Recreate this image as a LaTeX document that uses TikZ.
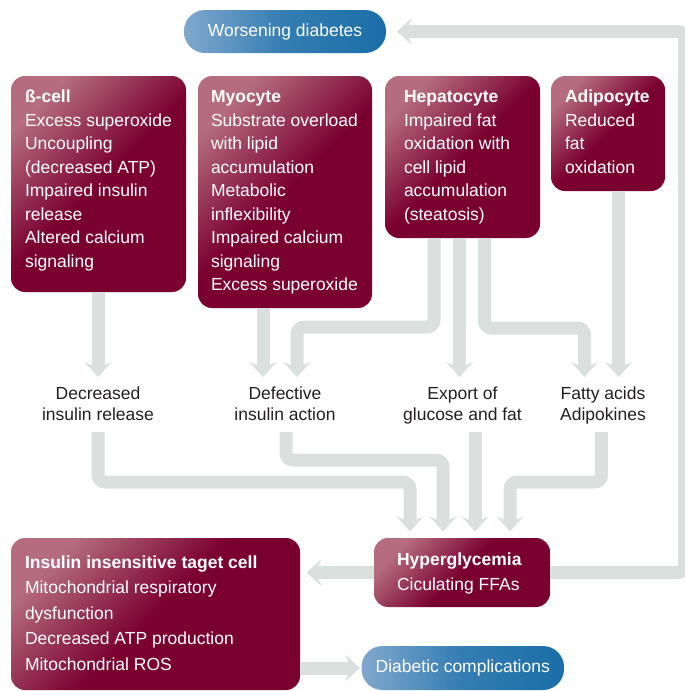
\documentclass[tikz,border=0pt]{standalone}
\usepackage{fontspec}
\setmainfont{Liberation Sans}
\usetikzlibrary{arrows.meta,calc}
\definecolor{mdark}{RGB}{122,0,48}
\definecolor{mlight}{RGB}{180,108,126}
\definecolor{bdark}{RGB}{26,110,168}
\definecolor{blight}{RGB}{128,168,206}
\definecolor{conncol}{RGB}{218,224,221}
\definecolor{labcol}{RGB}{35,31,32}
\newcommand\celltext[2]{\makebox[#1][l]{\begin{tabular}{@{}l@{}}#2\end{tabular}}}
\newcommand\labtext[1]{\begin{tabular}{@{}c@{}}#1\end{tabular}}
\tikzset{
  cellbox/.style={anchor=north west, rounded corners=14pt, outer sep=0pt,
    top color=mlight, bottom color=mdark, middle color=mdark, shading angle=45,
    text=white, inner ysep=0pt, font=\fontsize{17.5}{23.5}\selectfont},
  pill/.style={rounded corners=21pt, outer sep=0pt, left color=blight, right color=bdark,
    middle color=bdark!75!blight, text=white, font=\fontsize{17.5}{21}\selectfont,
    minimum width=202pt, minimum height=43pt, inner sep=0pt},
  lab/.style={text=labcol, inner sep=0pt, font=\fontsize{17.5}{20.5}\selectfont},
  conn/.style={draw=conncol, line width=13pt, rounded corners=7pt,
    -{Stealth[length=15pt,width=27pt,inset=6pt]}}
}
\begin{document}
\begin{tikzpicture}[x=1pt,y=-1pt]
\useasboundingbox (0,0) rectangle (685,691);
\coordinate (rail) at (684.5,300);
% boxes
\node[pill] (worse) at (285,31.5) {Worsening diabetes};
\node[cellbox, minimum width=175pt, minimum height=216pt, inner xsep=14pt] (beta) at (11,76)
  {\celltext{147pt}{\textbf{ß-cell}\\Excess superoxide\\Uncoupling\\(decreased ATP)\\Impaired insulin\\release\\Altered calcium\\signaling\\[7pt]}};
\node[cellbox, minimum width=174pt, minimum height=232pt, inner xsep=13pt] (myo) at (198,76)
  {\celltext{148pt}{\textbf{Myocyte}\\Substrate overload\\with lipid\\accumulation\\Metabolic\\inflexibility\\Impaired calcium\\signaling\\Excess superoxide}};
\node[cellbox, minimum width=155pt, minimum height=162pt, inner xsep=19pt] (hep) at (385,76)
  {\celltext{117pt}{\textbf{Hepatocyte}\\Impaired fat\\oxidation with\\cell lipid\\accumulation\\(steatosis)}};
\node[cellbox, minimum width=114pt, minimum height=115pt, inner xsep=14pt] (adi) at (551,76)
  {\celltext{86pt}{\textbf{Adipocyte}\\Reduced\\fat\\oxidation}};
\node[lab] (dec) at (98,406) {\labtext{Decreased\\insulin release}};
\node[lab] (def) at (285,406) {\labtext{Defective\\insulin action}};
\node[lab] (exp) at (462.5,406) {\labtext{Export of\\glucose and fat}};
\node[lab] (fat) at (603,406) {\labtext{Fatty acids\\Adipokines}};
\node[cellbox, minimum width=289pt, minimum height=152pt, inner xsep=14pt,
  font=\fontsize{17.5}{25.5}\selectfont] (ins) at (11,538)
  {\celltext{261pt}{\textbf{Insulin insensitive taget cell}\\Mitochondrial respiratory\\dysfunction\\Decreased ATP production\\Mitochondrial ROS}};
\node[cellbox, minimum width=176pt, minimum height=69pt, inner xsep=23pt,
  font=\fontsize{17.5}{25}\selectfont] (hyp) at (374,538)
  {\celltext{130pt}{\textbf{Hyperglycemia}\\Ciculating FFAs}};
\node[pill, minimum width=202.5pt, minimum height=44pt] (comp) at (462.75,668) {Diabetic complications};
% upper connectors
\draw[conn] (beta.south -| dec.center) -- ([yshift=29pt]dec.center);
\draw[conn] ([xshift=-22pt]myo.south) -- ([xshift=-22pt,yshift=29pt]def.center);
\draw[conn] ([xshift=-28.5pt]hep.south) -- ++(0,89) -| ([xshift=12pt,yshift=29pt]def.center);
\draw[conn] ([xshift=-3pt]hep.south) -- ([xshift=-3pt,yshift=29pt]exp.center);
\draw[conn] ([xshift=22pt]hep.south) -- ++(0,90) -| ([xshift=-18.5pt,yshift=29pt]fat.center);
\draw[conn] ([xshift=15.5pt]fat.center |- adi.south) -- ([xshift=15.5pt,yshift=29pt]fat.center);
% lower connectors
\draw[conn, shorten >=6.5pt] ([yshift=-26pt]dec.center) -- ++(0,50) -| ([xshift=-52pt]hyp.north);
\draw[conn, shorten >=6.5pt] ([xshift=1pt,yshift=-26pt]def.center) -- ++(0,28) -| ([xshift=-19pt]hyp.north);
\draw[conn, shorten >=6.5pt] ([xshift=13pt,yshift=-26pt]hyp.north |- exp.center) -- ([xshift=13pt]hyp.north);
\draw[conn, shorten >=6.5pt] ([xshift=-1.5pt,yshift=-26pt]fat.center) -- ++(0,50) -| ([xshift=48pt]hyp.north);
% feedback and outputs
\draw[conn, shorten >=11pt] (hyp.east) -| (rail) |- (worse.east);
\draw[conn, shorten >=6.5pt] (hyp.west) -- (hyp.west -| ins.east);
\draw[conn, shorten >=1.5pt] (ins.east |- comp.west) -- (comp.west);
\end{tikzpicture}
\end{document}
